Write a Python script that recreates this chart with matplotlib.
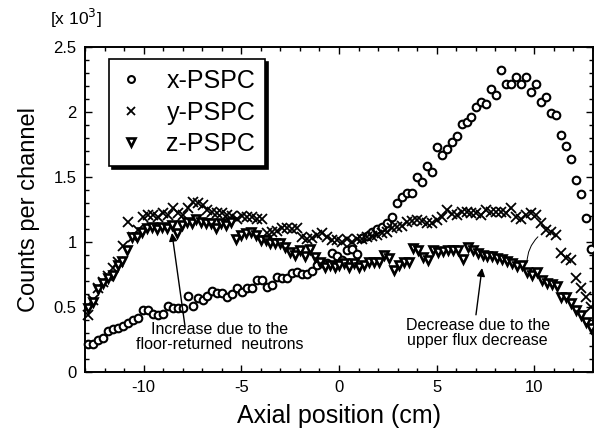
import numpy as np
import matplotlib
matplotlib.use("Agg")
import matplotlib.pyplot as plt
from matplotlib.ticker import MultipleLocator

plt.rcParams['font.family'] = ['Liberation Sans', 'DejaVu Sans']
plt.rcParams['axes.unicode_minus'] = False

# ---- data (counts per channel, x 10^3) ----
x_pspc = [0.215, 0.215, 0.245, 0.26, 0.315, 0.33, 0.34, 0.355, 0.38, 0.40,
          0.415, 0.475, 0.475, 0.445, 0.44, 0.445, 0.51, 0.49, 0.49, 0.49,
          0.585, 0.51, 0.57, 0.555, 0.585, 0.625, 0.61, 0.61, 0.575, 0.60,
          0.645, 0.615, 0.645, 0.645, 0.71, 0.71, 0.655, 0.67, 0.73, 0.725,
          0.72, 0.76, 0.77, 0.755, 0.755, 0.78, 0.82, 0.84, 0.84, 0.915,
          0.89, 0.86, 0.94, 0.95, 0.905, 1.03, 1.05, 1.08, 1.10, 1.115,
          1.145, 1.19, 1.30, 1.345, 1.375, 1.38, 1.50, 1.46, 1.585, 1.54,
          1.73, 1.67, 1.715, 1.77, 1.815, 1.91, 1.925, 1.96, 2.04, 2.08,
          2.06, 2.18, 2.13, 2.32, 2.215, 2.215, 2.27, 2.215, 2.27, 2.155,
          2.215, 2.08, 2.115, 1.99, 1.98, 1.82, 1.74, 1.64, 1.48, 1.37,
          1.185, 0.95]
y_pspc = [0.44, 0.555, 0.645, 0.69, 0.74, 0.80, 0.85, 0.97, 1.155, 1.04,
          1.09, 1.19, 1.21, 1.21, 1.19, 1.22, 1.21, 1.26, 1.22, 1.21,
          1.26, 1.31, 1.30, 1.285, 1.25, 1.23, 1.22, 1.22, 1.21, 1.20,
          1.18, 1.20, 1.19, 1.19, 1.18, 1.18, 1.07, 1.08, 1.085, 1.11,
          1.11, 1.10, 1.11, 1.04, 1.02, 1.03, 1.055, 1.07, 1.04, 1.015,
          1.015, 1.0, 1.02, 1.0, 1.02, 1.025, 1.035, 1.045, 1.055, 1.07,
          1.08, 1.11, 1.115, 1.12, 1.155, 1.16, 1.17, 1.16, 1.145, 1.145,
          1.17, 1.19, 1.245, 1.215, 1.21, 1.23, 1.23, 1.22, 1.22, 1.21,
          1.245, 1.23, 1.23, 1.23, 1.22, 1.26, 1.19, 1.18, 1.21, 1.22,
          1.21, 1.145, 1.09, 1.08, 1.055, 0.915, 0.875, 0.86, 0.72, 0.645,
          0.58, 0.50]
z_pspc = [0.49, 0.54, 0.64, 0.685, 0.72, 0.745, 0.82, 0.855, 0.94, 1.04,
          1.04, 1.08, 1.11, 1.115, 1.10, 1.115, 1.11, 1.13, 1.07, 1.13,
          1.155, 1.145, 1.18, 1.155, 1.145, 1.145, 1.11, 1.145, 1.13, 1.155,
          1.02, 1.055, 1.07, 1.08, 1.055, 1.015, 1.015, 0.99, 0.99, 0.99,
          0.96, 0.925, 0.90, 0.94, 0.89, 0.945, 0.885, 0.845, 0.81, 0.825,
          0.81, 0.825, 0.835, 0.81, 0.835, 0.81, 0.825, 0.85, 0.85, 0.85,
          0.90, 0.875, 0.785, 0.825, 0.85, 0.85, 0.955, 0.94, 0.885, 0.86,
          0.94, 0.925, 0.93, 0.94, 0.935, 0.94, 0.87, 0.96, 0.94, 0.915,
          0.90, 0.895, 0.89, 0.875, 0.87, 0.855, 0.84, 0.815, 0.82, 0.77,
          0.745, 0.77, 0.71, 0.685, 0.68, 0.66, 0.58, 0.575, 0.53, 0.475,
          0.44, 0.385, 0.34]
series_labels = ['x-PSPC', 'y-PSPC', 'z-PSPC']
x_range = (-12.85, 12.9)

fig = plt.figure(figsize=(5.94, 4.30), dpi=100)
ax = fig.add_axes([85/594, 58/430, 508/594, 325/430])

def grid(vals):
    return np.linspace(x_range[0], x_range[1], len(vals))

ax.plot(grid(x_pspc), x_pspc, linestyle='none', marker='o', ms=5.5, mfc='white',
        mec='black', mew=1.5, label=series_labels[0], clip_on=False, zorder=3)
ax.plot(grid(y_pspc), y_pspc, linestyle='none', marker='x', ms=7,
        mec='black', mew=1.3, label=series_labels[1], clip_on=False, zorder=3)
ax.plot(grid(z_pspc), z_pspc, linestyle='none', marker='v', ms=6, mfc='white',
        mec='black', mew=1.9, label=series_labels[2], clip_on=False, zorder=3)

ax.set_xlim(-13, 13)
ax.set_ylim(0, 2.5)
ax.xaxis.set_major_locator(MultipleLocator(5))
ax.xaxis.set_minor_locator(MultipleLocator(1))
ax.yaxis.set_major_locator(MultipleLocator(0.5))
ax.yaxis.set_minor_locator(MultipleLocator(0.1))
ax.yaxis.set_major_formatter(plt.FuncFormatter(lambda v, p: f'{v:g}'))
ax.tick_params(which='both', direction='in', top=True, right=True, labelsize=12, width=1.0)
ax.tick_params(which='major', length=5, pad=6)
ax.tick_params(which='minor', length=3)
for s in ax.spines.values():
    s.set_linewidth(1.4)

ax.set_xlabel('Axial position (cm)', fontsize=18, labelpad=6)
ax.set_ylabel('Counts per channel', fontsize=17, labelpad=10)
fig.text(50/594, 1 - 18/430, '[x 10$^3$]', fontsize=12.5, va='center', ha='left')
plt.rcParams['mathtext.fontset'] = 'custom'

leg = ax.legend(loc='upper left', bbox_to_anchor=(0.047, 0.963), borderaxespad=0,
                fontsize=18, frameon=True, fancybox=False, handlelength=1.0,
                handletextpad=0.9, labelspacing=0.3, borderpad=0.4, markerscale=0.9,
                shadow={'color': 'black', 'alpha': 1.0, 'ox': 2, 'oy': -2})
leg.get_frame().set_edgecolor('black')
leg.get_frame().set_linewidth(1.2)

ax.annotate('', xy=(-8.55, 1.07), xytext=(-7.88, 0.35),
            arrowprops=dict(arrowstyle='-|>', color='black', lw=1.0,
                            mutation_scale=12, shrinkA=0, shrinkB=0))
ax.text(-6.1, 0.27, 'Increase due to the\nfloor-returned  neutrons', fontsize=11.5,
        ha='center', va='center', linespacing=1.0)

ax.annotate('', xy=(7.32, 0.80), xytext=(7.01, 0.44),
            arrowprops=dict(arrowstyle='-|>', color='black', lw=1.0,
                            mutation_scale=12, shrinkA=0, shrinkB=0))
ax.text(7.1, 0.30, 'Decrease due to the\nupper flux decrease', fontsize=11.5,
        ha='center', va='center', linespacing=1.0)
ax.annotate('', xy=(9.62, 0.84), xytext=(10.18, 1.04),
            arrowprops=dict(arrowstyle='-', color='black', lw=0.7,
                            connectionstyle='arc3,rad=0.2', shrinkA=0, shrinkB=0))

fig.savefig('out.png', dpi=100)
